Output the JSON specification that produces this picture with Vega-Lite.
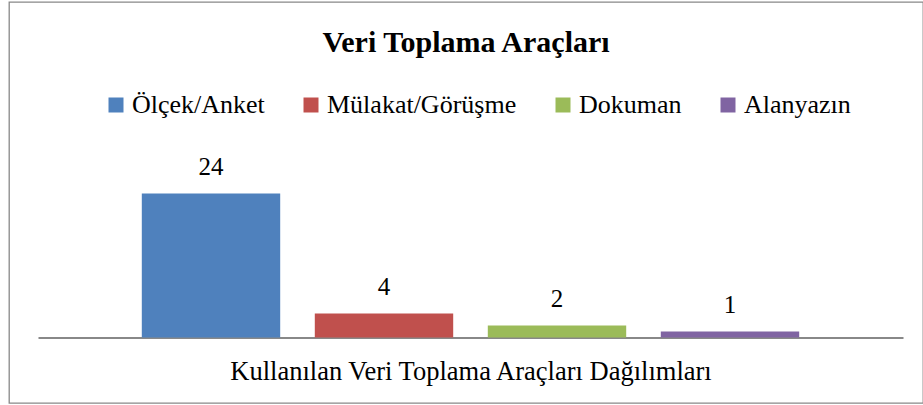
{
  "$schema": "https://vega.github.io/schema/vega-lite/v6.json",
  "autosize": {"type": "none"},
  "width": 914,
  "height": 401,
  "padding": {"left": 9, "top": 2, "right": 0, "bottom": 2},
  "background": "white",
  "config": {
    "view": {"stroke": "#888888", "strokeWidth": 1.3},
    "font": "Liberation Serif",
    "legend": {"labelFont": "Liberation Serif", "labelFontSize": 26, "labelColor": "black"}
  },
  "title": {
    "text": "Veri Toplama Araçları",
    "font": "Liberation Serif",
    "fontSize": 30,
    "fontWeight": "bold",
    "color": "black",
    "anchor": "middle",
    "frame": "group",
    "baseline": "alphabetic",
    "offset": -51,
    "dy": 29
  },
  "data": {
    "values": [
      {"tool": "Ölçek/Anket", "count": 24},
      {"tool": "Mülakat/Görüşme", "count": 4},
      {"tool": "Dokuman", "count": 2},
      {"tool": "Alanyazın", "count": 1}
    ]
  },
  "encoding": {
    "x": {
      "field": "tool",
      "type": "nominal",
      "sort": ["Ölçek/Anket", "Mülakat/Görüşme", "Dokuman", "Alanyazın"],
      "scale": {"range": [29, 894], "paddingInner": 0.2, "paddingOuter": 0.6},
      "axis": {
        "title": "Kullanılan Veri Toplama Araçları Dağılımları",
        "titleFont": "Liberation Serif",
        "titleFontSize": 26.5,
        "titleFontWeight": "normal",
        "titleColor": "black",
        "titleBaseline": "alphabetic",
        "titlePadding": 42,
        "labels": false,
        "ticks": false,
        "domainColor": "#888888",
        "domainWidth": 2,
        "offset": -65.5,
        "grid": false
      }
    },
    "y": {
      "field": "count",
      "type": "quantitative",
      "scale": {"domain": [0, 30], "range": [335.5, 155.5]},
      "axis": null
    }
  },
  "layer": [
    {
      "mark": {"type": "bar"},
      "encoding": {
        "color": {
          "field": "tool",
          "type": "nominal",
          "sort": ["Ölçek/Anket", "Mülakat/Görüşme", "Dokuman", "Alanyazın"],
          "scale": {
            "domain": ["Ölçek/Anket", "Mülakat/Görüşme", "Dokuman", "Alanyazın"],
            "range": ["#4F81BD", "#C0504D", "#9BBB59", "#8064A2"]
          },
          "legend": {
            "title": null,
            "orient": "none",
            "legendX": 94,
            "legendY": 90,
            "direction": "horizontal",
            "columns": 4,
            "symbolType": "square",
            "symbolSize": 225,
            "symbolStrokeWidth": 0,
            "symbolOpacity": 1,
            "labelFont": "Liberation Serif",
            "labelFontSize": 26,
            "labelColor": "black",
            "labelOffset": 3,
            "labelLimit": 0,
            "columnPadding": 33,
            "padding": 0
          }
        }
      }
    },
    {
      "mark": {"type": "text", "baseline": "alphabetic", "dy": -19, "font": "Liberation Serif", "fontSize": 25, "color": "black"},
      "encoding": {
        "text": {"field": "count", "type": "quantitative"}
      }
    }
  ]
}
